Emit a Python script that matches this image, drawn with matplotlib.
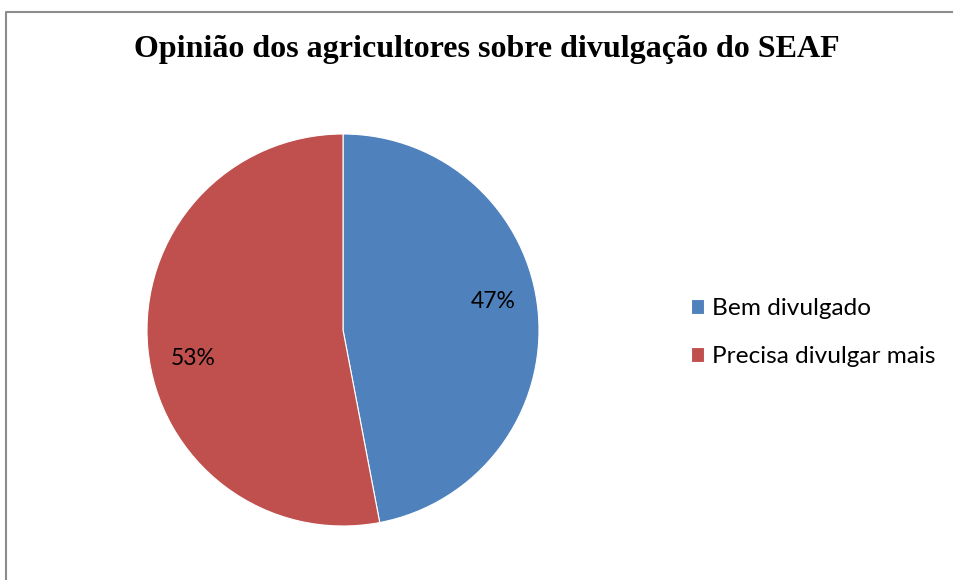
import matplotlib.pyplot as plt
from matplotlib.lines import Line2D
import numpy as np

# dados do gráfico
categorias = ['Bem divulgado', 'Precisa divulgar mais']
percentuais = [47, 53]
cores = ['#4F81BD', '#C0504D']
titulo = 'Opinião dos agricultores sobre divulgação do SEAF'

W, H = 954, 580
fig = plt.figure(figsize=(W / 100, H / 100), dpi=100)

# moldura cinza do gráfico (só as bordas esquerda e superior aparecem)
x0, y0 = 6.5 / W, 1 - 11.5 / H
fig.add_artist(Line2D([x0, x0, 1.01], [-0.01, y0, y0], transform=fig.transFigure,
                      color='#8c8c8c', linewidth=1.5))

fig.text(487 / W, 1 - 50 / H, titulo, ha='center', va='center',
         fontsize=23, fontweight='bold', family='Liberation Serif')

# área da pizza: centro (343, 330), raio 196 px
cx, cy, r = 343, 330, 196
ax = fig.add_axes([(cx - r) / W, 1 - (cy + r) / H, 2 * r / W, 2 * r / H])
wedges, _ = ax.pie(percentuais, colors=cores, startangle=90, counterclock=False,
                   radius=1, wedgeprops=dict(linewidth=0.8, edgecolor='white'))
ax.set_xlim(-1, 1)
ax.set_ylim(-1, 1)
ax.set_aspect('equal')

# rótulos de porcentagem
for w, p in zip(wedges, percentuais):
    ang = np.deg2rad((w.theta1 + w.theta2) / 2 + 5.3)
    ax.text(0.78 * np.cos(ang), 0.78 * np.sin(ang), f'{p}%', ha='center', va='center',
            fontsize=16.5, family='Lato')

leg = fig.legend(wedges, categorias, loc='upper left', bbox_to_anchor=(669 / W, 1 - 276 / H),
                 frameon=False, prop={'family': 'Lato', 'size': 17.6},
                 handlelength=0.55, handleheight=0.55, handletextpad=0.3, labelspacing=1.1)

fig.savefig('out.png', dpi=100)
